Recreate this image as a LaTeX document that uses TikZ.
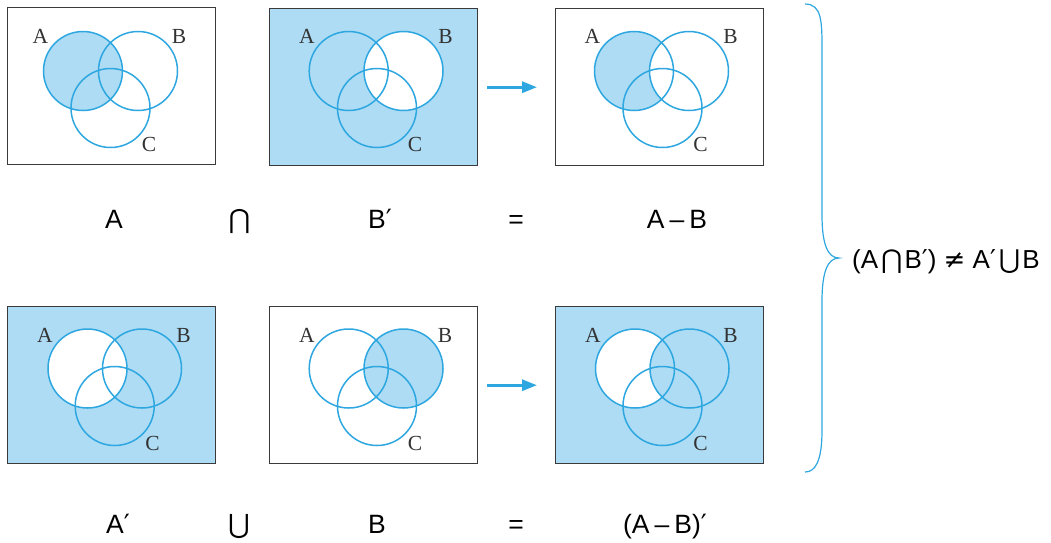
\documentclass[tikz,border=0pt]{standalone}
\usepackage{fontspec}
\setmainfont{Liberation Sans}
\newfontfamily\symf{DejaVu Sans}
\newfontfamily\serf{Liberation Serif}
\usetikzlibrary{arrows.meta}
\definecolor{vblue}{HTML}{2EA7E0}
\definecolor{vfill}{HTML}{ADDCF4}
\definecolor{vbox}{HTML}{3A3A3A}
\definecolor{vtext}{HTML}{333333}
\begin{document}
\begin{tikzpicture}[x=1pt,y=-1pt,
  panel/.style={draw=vbox,line width=1.4pt,minimum width=208pt,minimum height=157pt,inner sep=0pt,anchor=north west},
  ring/.style={draw=vblue,line width=1.5pt,circle,minimum size=79pt,inner sep=0pt},
  setlab/.style={font=\serf\fontsize{21.5}{24}\selectfont,text=vtext,inner sep=0pt},
  eqlab/.style={font=\fontsize{26.5}{30}\selectfont,anchor=base,inner sep=0pt},
  rhslab/.style={font=\fontsize{26}{30}\selectfont,anchor=base west,inner sep=0pt},
  arr/.style={draw=vblue,line width=3pt,-{Triangle[length=15pt,width=11pt]}},
  bracestyle/.style={draw=vblue,line width=1.2pt},
  sh/.style={fill=vfill},
  wh/.style={fill=white},
]
\useasboundingbox (0,0) rectangle (1051,542);

% ---------- panels ----------
\node[panel] (p1) at (7,7) {};
\node[panel,fill=vfill] (p2) at (269,8) {};
\node[panel] (p3) at (555,8) {};
\node[panel,fill=vfill] (p4) at (7,306) {};
\node[panel] (p5) at (269,306) {};
\node[panel,fill=vfill] (p6) at (555,306) {};

% ---------- centres ----------
\coordinate (a1) at (83,71);    \coordinate (b1) at (138,71);    \coordinate (c1) at (110.5,108);
\coordinate (a2) at (348.7,71); \coordinate (b2) at (403.5,71);  \coordinate (c2) at (377,108);
\coordinate (a3) at (634,71);   \coordinate (b3) at (689,71);    \coordinate (c3) at (662.5,108);
\coordinate (a4) at (87.5,368.5); \coordinate (b4) at (142,368.5); \coordinate (c4) at (114.7,406);
\coordinate (a5) at (348.7,368.5); \coordinate (b5) at (403.5,368.5); \coordinate (c5) at (377,406);
\coordinate (a6) at (635,368.5); \coordinate (b6) at (689.5,368.5); \coordinate (c6) at (662.5,406);

% ---------- fills ----------
\fill[sh] (a1) circle[radius=39.5pt];
\fill[wh] (b2) circle[radius=39.5pt];
\fill[sh] (a3) circle[radius=39.5pt];
\fill[wh] (b3) circle[radius=39.5pt];
\fill[wh] (a4) circle[radius=39.5pt];
\fill[sh] (b5) circle[radius=39.5pt];
\fill[wh] (a6) circle[radius=39.5pt];
\fill[sh] (b6) circle[radius=39.5pt];

% ---------- circles ----------
\foreach \i in {1,...,6}{
  \node[ring] (A\i) at (a\i) {};
  \node[ring] (B\i) at (b\i) {};
  \node[ring] (C\i) at (c\i) {};
}

% ---------- set labels ----------
\node[setlab] (lA1) at (40.5,36) {A};  \node[setlab] (lB1) at (179,36) {B};   \node[setlab] (lC1) at (149,144) {C};
\node[setlab] (lA2) at (307,36) {A};   \node[setlab] (lB2) at (445.5,36) {B}; \node[setlab] (lC2) at (415,144.5) {C};
\node[setlab] (lA3) at (592.5,36) {A}; \node[setlab] (lB3) at (730.5,36) {B}; \node[setlab] (lC3) at (700.5,144.5) {C};
\node[setlab] (lA4) at (45,335.5) {A}; \node[setlab] (lB4) at (183.5,335.5) {B}; \node[setlab] (lC4) at (152.5,443.5) {C};
\node[setlab] (lA5) at (307,335.5) {A}; \node[setlab] (lB5) at (445,335.5) {B}; \node[setlab] (lC5) at (415,443.5) {C};
\node[setlab] (lA6) at (593,335.5) {A}; \node[setlab] (lB6) at (730.5,335.5) {B}; \node[setlab] (lC6) at (700.5,443.5) {C};

% ---------- arrows ----------
\draw[arr] ([xshift=9pt]p2.east) -- ([xshift=-18pt]p3.west);
\draw[arr] ([xshift=9pt]p5.east) -- ([xshift=-18pt]p6.west);

% ---------- equation rows ----------
\node[eqlab] (tA) at (114,228) {A};
\node[eqlab] (tcap) at (239.5,228) {\symf ⋂};
\node[eqlab] (tBp) at (380,228) {B{\symf ′}};
\node[eqlab] (teq1) at (516,228) {=};
\node[eqlab] (tAmB) at (677,228) {A\kern5pt–\kern5pt B};

\node[eqlab] (tAp) at (118,533) {A{\symf ′}};
\node[eqlab] (tcup) at (239,533) {\symf ⋃};
\node[eqlab] (tB) at (377,533) {B};
\node[eqlab] (teq2) at (516,533) {=};
\node[eqlab] (tAmBp) at (665,533) {(A\kern5pt–\kern5pt B){\symf ′}};

% ---------- brace and conclusion ----------
\draw[bracestyle] (805,4) .. controls (822,4) and (822,22) .. (822,50)
  -- (822,215) .. controls (822,245) and (828,258) .. (839,258)
  .. controls (828,258) and (822,271) .. (822,301)
  -- (822,430) .. controls (822,462) and (815,472) .. (805,472);
\node[rhslab] (rhs) at (852,268) {(A\kern3pt{\symf ⋂}\kern2pt B{\symf ′}) {\symf ≠} A{\symf ′}\kern3pt{\symf ⋃}\kern2pt B};
\end{tikzpicture}
\end{document}
